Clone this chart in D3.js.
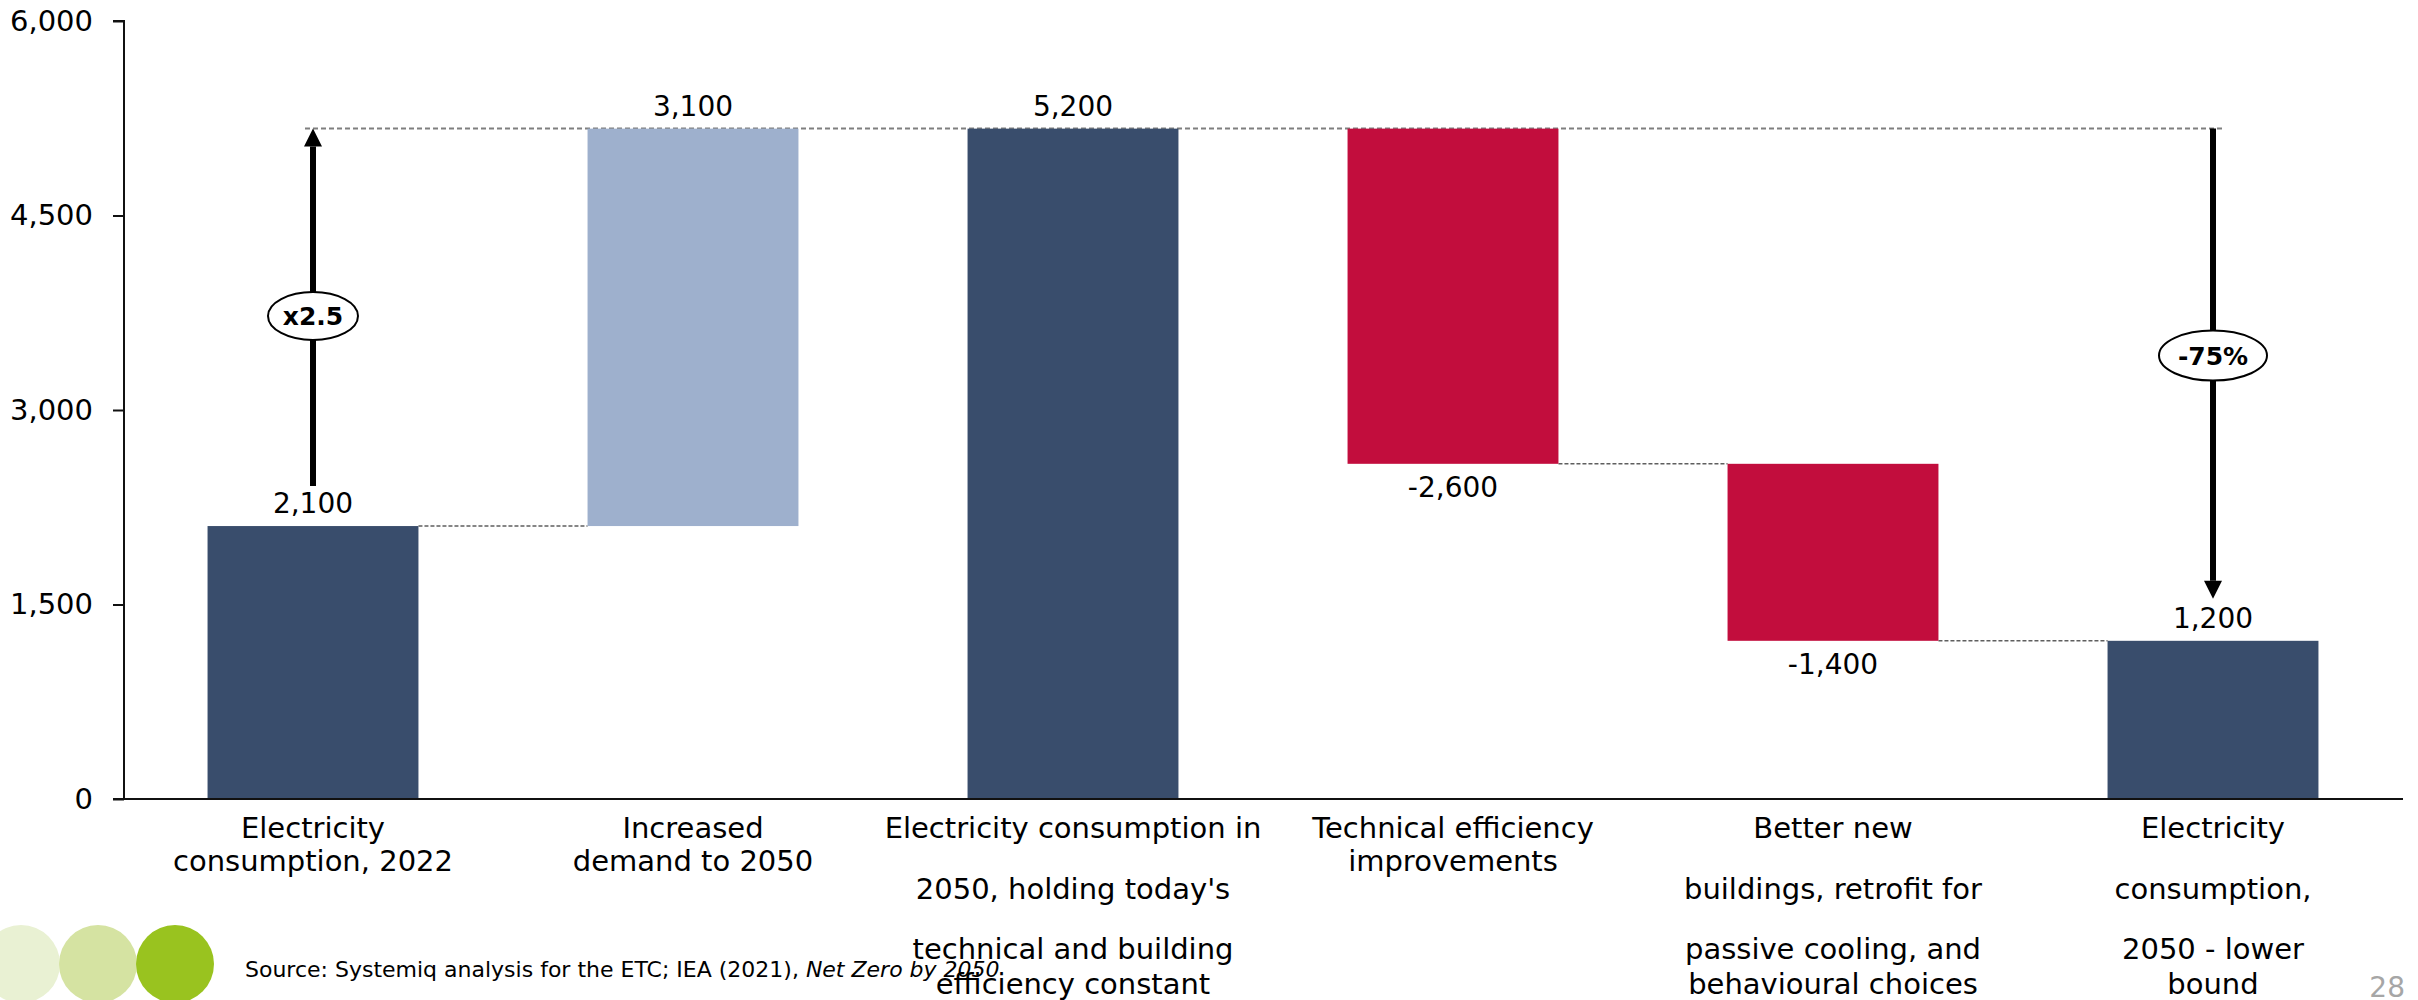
<!DOCTYPE html>
<html>
<head>
<meta charset="utf-8">
<script src="https://cdn.jsdelivr.net/npm/d3@7"></script>
<style>
  html, body { margin: 0; padding: 0; background: #fff; }
  svg { display: block; }
  text { font-family: "DejaVu Sans", sans-serif; fill: #000; }
</style>
</head>
<body>
<svg id="chart" width="2418" height="1000"></svg>
<script>
// ---------------- data ----------------
const categories = [
  "Electricity consumption, 2022",
  "Increased demand to 2050",
  "Electricity consumption in 2050, holding today's technical and building efficiency constant",
  "Technical efficiency improvements",
  "Better new buildings, retrofit for passive cooling, and behavioural choices",
  "Electricity consumption, 2050 - lower bound"
];
const categoryLines = [
  ["Electricity", "consumption, 2022"],
  ["Increased", "demand to 2050"],
  ["Electricity consumption in", "2050, holding today's", "technical and building", "efficiency constant"],
  ["Technical efficiency", "improvements"],
  ["Better new", "buildings, retrofit for", "passive cooling, and", "behavioural choices"],
  ["Electricity", "consumption,", "2050 - lower", "bound"]
];
const values = [2105, 3065, 5170, -2585, -1365, 1220];
const kinds = ["total", "increase", "total", "decrease", "decrease", "total"];
const valueLabels = ["2,100", "3,100", "5,200", "-2,600", "-1,400", "1,200"];
const yTicks = [0, 1500, 3000, 4500, 6000];
const annotations = [
  { label: "x2.5", fromIndex: 0, toIndex: 2, at: 3725, dir: "up" },
  { label: "-75%", fromIndex: 2, toIndex: 5, at: 3420, dir: "down" }
];
const sourceParts = [
  { text: "Source: Systemiq analysis for the ETC; IEA (2021), ", italic: false },
  { text: "Net Zero by 2050", italic: true }
];
const pageNumber = "28";
const footerDots = ["#e9f1d3", "#d5e3a2", "#99c31f"];

// ---------------- layout ----------------
const colors = { total: "#394d6c", increase: "#9eb0cd", decrease: "#c20d3d" };
const svg = d3.select("#chart");

const x = d3.scaleBand().domain(categories).range([123, 2403])
  .paddingInner(0.445).paddingOuter(0.2225);
const y = d3.scaleLinear().domain([0, 6000]).range([799, 21]);

// compute waterfall spans
let running = 0;
const bars = values.map((v, i) => {
  let lo, hi, end;
  if (kinds[i] === "total") { lo = 0; hi = v; running = v; end = v; }
  else { const start = running; running = start + v; lo = Math.min(start, running); hi = Math.max(start, running); end = running; }
  return { cat: categories[i], kind: kinds[i], v, lo, hi, end, label: valueLabels[i], i };
});

// connectors (drawn under bars)
const conn = svg.append("g");
const topLevel = bars[2].end;
conn.append("line")
  .attr("x1", x(categories[0]) + x.bandwidth() / 2 - 8)
  .attr("x2", x(categories[5]) + x.bandwidth() / 2 + 10)
  .attr("y1", y(topLevel)).attr("y2", y(topLevel))
  .attr("stroke", "#7f7f7f").attr("stroke-width", 2).attr("stroke-dasharray", "5,3");
for (let i = 0; i < bars.length - 1; i++) {
  const lvl = bars[i].end;
  if (Math.abs(lvl - topLevel) < 1) continue;
  conn.append("line")
    .attr("x1", x(categories[i]) + x.bandwidth())
    .attr("x2", x(categories[i + 1]))
    .attr("y1", y(lvl)).attr("y2", y(lvl))
    .attr("stroke", "#5f5f5f").attr("stroke-width", 1.4).attr("stroke-dasharray", "4,2");
}

// bars
svg.append("g").selectAll("rect").data(bars).join("rect")
  .attr("x", d => x(d.cat))
  .attr("width", x.bandwidth())
  .attr("y", d => y(d.hi))
  .attr("height", d => y(d.lo) - y(d.hi))
  .attr("fill", d => colors[d.kind]);

// value labels
svg.append("g").selectAll("text").data(bars).join("text")
  .attr("x", d => x(d.cat) + x.bandwidth() / 2)
  .attr("y", d => d.kind === "decrease" ? y(d.lo) + 33 : y(d.hi) - 13)
  .attr("text-anchor", "middle")
  .attr("font-size", 28)
  .text(d => d.label);

// y axis
const yAxis = d3.axisLeft(y).tickValues(yTicks).tickFormat(d3.format(",")).tickSize(11).tickPadding(20);
const gy = svg.append("g").attr("transform", "translate(124,0)").call(yAxis);
gy.select(".domain").attr("stroke", "#111").attr("stroke-width", 2).attr("d", `M-11,${y(6000)}H0V${y(0)}`);
gy.selectAll(".tick line").attr("stroke", "#111").attr("stroke-width", 2);
gy.selectAll(".tick text").attr("font-size", 29).attr("font-family", "DejaVu Sans").attr("fill", "#000");

// x axis line
svg.append("line").attr("x1", 113).attr("x2", 2403).attr("y1", y(0)).attr("y2", y(0))
  .attr("stroke", "#111").attr("stroke-width", 2);

// category labels
const lineOffsets2 = [838, 871];
const lineOffsets4 = [838, 899, 959, 994];
const gl = svg.append("g");
categoryLines.forEach((lines, i) => {
  const offs = lines.length === 2 ? lineOffsets2 : lineOffsets4;
  const t = gl.append("text").attr("text-anchor", "middle").attr("font-size", 29);
  lines.forEach((ln, j) => {
    t.append("tspan").attr("x", x(categories[i]) + x.bandwidth() / 2).attr("y", offs[j]).text(ln);
  });
});

// annotations: arrows with ellipse labels
const ga = svg.append("g");
annotations.forEach(a => {
  const cx = x(categories[a.dir === "up" ? a.fromIndex : a.toIndex]) + x.bandwidth() / 2;
  const ey = y(a.at);
  const rx = a.dir === "up" ? 45 : 54, ry = a.dir === "up" ? 24 : 25;
  let yStart, yTip;
  if (a.dir === "up") { yStart = y(bars[a.fromIndex].end) - 40; yTip = y(bars[a.toIndex].end); }
  else { yStart = y(bars[a.fromIndex].end); yTip = y(bars[a.toIndex].end) - 42; }
  const head = 18;
  const sgn = a.dir === "up" ? -1 : 1;
  const yBase = yTip - sgn * head;
  ga.append("line").attr("x1", cx).attr("x2", cx)
    .attr("y1", yStart).attr("y2", ey - sgn * ry)
    .attr("stroke", "#000").attr("stroke-width", 6);
  ga.append("line").attr("x1", cx).attr("x2", cx)
    .attr("y1", ey + sgn * ry).attr("y2", yBase)
    .attr("stroke", "#000").attr("stroke-width", 6);
  ga.append("path")
    .attr("d", `M${cx - 9},${yBase}L${cx + 9},${yBase}L${cx},${yTip}Z`)
    .attr("fill", "#000");
  ga.append("ellipse").attr("cx", cx).attr("cy", ey).attr("rx", rx).attr("ry", ry)
    .attr("fill", "#fff").attr("stroke", "#000").attr("stroke-width", 2);
  ga.append("text").attr("x", cx).attr("y", ey + 9).attr("text-anchor", "middle")
    .attr("font-size", 25).attr("font-weight", "bold").text(a.label);
});

// footer dots
svg.append("g").selectAll("circle").data(footerDots).join("circle")
  .attr("cx", (d, i) => 21 + i * 77).attr("cy", 964).attr("r", 39).attr("fill", d => d);

// source
const src = svg.append("text").attr("x", 245).attr("y", 977).attr("font-size", 22);
sourceParts.forEach(p => {
  src.append("tspan").attr("font-style", p.italic ? "italic" : "normal").text(p.text);
});

// page number
svg.append("text").attr("x", 2405).attr("y", 997).attr("text-anchor", "end")
  .attr("font-size", 28).style("fill", "#a6a6a6").text(pageNumber);
</script>
</body>
</html>
